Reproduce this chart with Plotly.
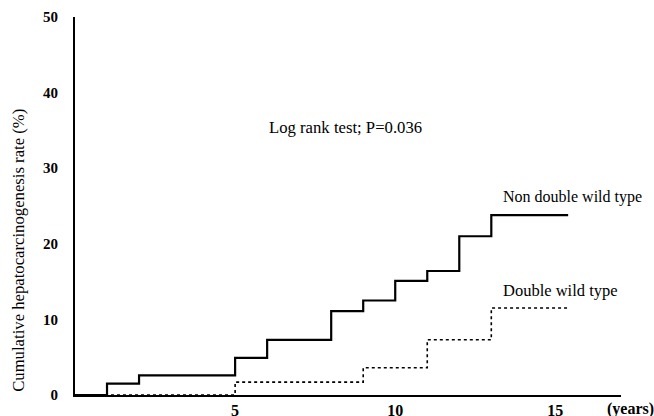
import plotly.graph_objects as go

# Data (years, cumulative rate %)
non_dw_x = [0, 1, 2, 5, 6, 8, 9, 10, 11, 12, 13, 15.4]
non_dw_y = [0, 1.5, 2.6, 4.9, 7.3, 11.1, 12.5, 15.1, 16.4, 21.0, 23.8, 23.8]
dw_x = [0, 5, 9, 11, 13, 15.4]
dw_y = [0, 1.7, 3.6, 7.3, 11.5, 11.5]

x_ticks = [5, 10, 15]
y_ticks = [0, 10, 20, 30, 40, 50]

SERIF = "Liberation Serif"

fig = go.Figure()
fig.add_trace(go.Scatter(x=non_dw_x, y=non_dw_y, mode="lines", line_shape="hv",
                         line=dict(color="black", width=2.2), showlegend=False))
fig.add_trace(go.Scatter(x=dw_x, y=dw_y, mode="lines", line_shape="hv",
                         line=dict(color="black", width=1.6, dash="dot"), showlegend=False))

fig.update_layout(
    width=654, height=416,
    margin=dict(l=75, r=33, t=17, b=21),
    plot_bgcolor="white", paper_bgcolor="white",
    xaxis=dict(range=[0, 17.05], tickvals=x_ticks, showgrid=False, zeroline=False,
               showline=True, linecolor="black", linewidth=2, ticks="", automargin=False,
               tickfont=dict(family=SERIF, size=16, color="black", weight="bold"),
               ticklabelstandoff=0),
    yaxis=dict(range=[0, 50], tickvals=y_ticks, showgrid=False, zeroline=False,
               showline=True, linecolor="black", linewidth=2, ticks="", automargin=False,
               tickfont=dict(family=SERIF, size=15, color="black", weight="bold"),
               ticklabelstandoff=12),
    annotations=[
        dict(x=8.44, y=35.4, xref="x", yref="y", text="Log rank test; P=0.036",
             showarrow=False, font=dict(family=SERIF, size=16.7, color="black")),
        dict(x=15.52, y=26.2, xref="x", yref="y", text="Non double wild type",
             showarrow=False, font=dict(family=SERIF, size=16, color="black")),
        dict(x=15.16, y=13.8, xref="x", yref="y", text="Double wild type",
             showarrow=False, font=dict(family=SERIF, size=16.5, color="black")),
        dict(x=1.0165, y=-0.038, xref="paper", yref="paper", xanchor="center", yanchor="middle",
             text="(years)", showarrow=False,
             font=dict(family=SERIF, size=16, color="black", weight="bold")),
        dict(x=-0.1026, y=19.2, xref="paper", yref="y", xanchor="center", yanchor="middle",
             text="Cumulative hepatocarcinogenesis rate (%)", textangle=-90,
             showarrow=False, font=dict(family=SERIF, size=16.7, color="black")),
    ],
)

fig.write_html("out.html", config={"displayModeBar": False},
               post_script="document.body.style.margin='0px';")
